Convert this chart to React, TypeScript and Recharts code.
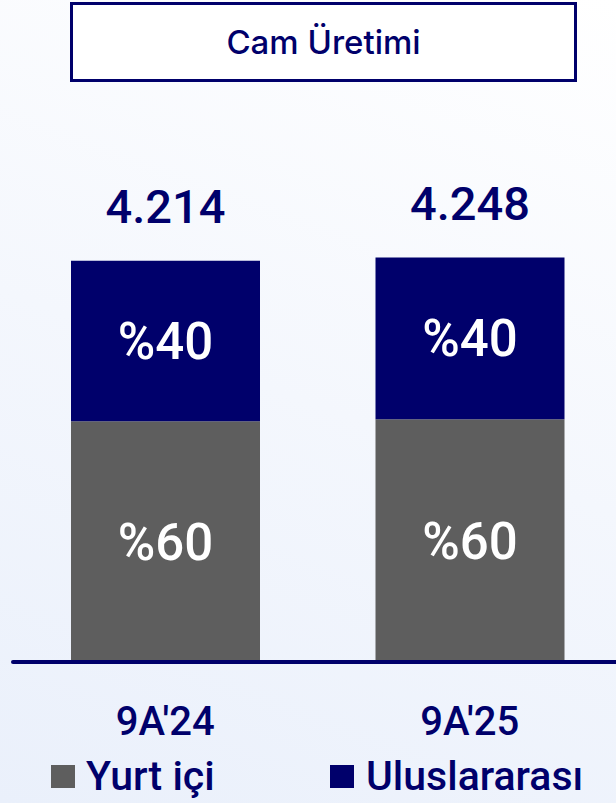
import { BarChart, Bar, XAxis, YAxis, Legend, LabelList } from 'recharts';

// values
const periods = ["9A'24", "9A'25"];
const totals = [4214, 4248];
const domesticShare = [60, 60];
const intlShare = [40, 40];

const NAVY = '#00006b';
const GREY = '#5e5e5e';

const data = periods.map((name, i) => ({
  name,
  yurtici: (totals[i] * domesticShare[i]) / 100,
  uluslararasi: (totals[i] * intlShare[i]) / 100,
  yurticiPay: domesticShare[i],
  uluslararasiPay: intlShare[i],
  total: totals[i],
}));

const fmt = (n: number) => String(n).replace(/\B(?=(\d{3})+(?!\d))/g, '.');

const legendItems = [
  { label: 'Yurt içi', color: GREY, left: 51, textLeft: 86 },
  { label: 'Uluslararası', color: NAVY, left: 330, textLeft: 366 },
];

function ShareLabel(props: any) {
  const { x, y, width, height, value } = props;
  return (
    <text
      x={x + width / 2}
      y={y + height / 2 + 18}
      textAnchor="middle"
      fill="#ffffff"
      fontFamily="Roboto"
      fontWeight={500}
      fontSize={51}
    >
      %{value}
    </text>
  );
}

function TotalLabel(props: any) {
  const { x, y, width, index } = props;
  return (
    <text
      x={x + width / 2}
      y={y - 38}
      textAnchor="middle"
      fill={NAVY}
      fontFamily="Roboto"
      fontWeight={500}
      fontSize={47}
    >
      {fmt(totals[index])}
    </text>
  );
}

function PeriodTick(props: any) {
  const { x, y, payload } = props;
  return (
    <text x={x} y={y + 73} textAnchor="middle" fill={NAVY} fontFamily="Roboto" fontWeight={500} fontSize={40}>
      {payload.value}
    </text>
  );
}

function LegendContent() {
  return (
    <div style={{ position: 'relative', width: 616, height: 50 }}>
      {legendItems.map((it) => (
        <div key={it.label}>
          <div
            style={{ position: 'absolute', left: it.left, top: 13, width: 24, height: 23, background: it.color }}
          />
          <div
            style={{
              position: 'absolute',
              left: it.textLeft,
              top: -1,
              fontFamily: 'Roboto',
              fontWeight: 500,
              fontSize: 41,
              lineHeight: '50px',
              color: NAVY,
              whiteSpace: 'nowrap',
            }}
          >
            {it.label}
          </div>
        </div>
      ))}
    </div>
  );
}

export default function App() {
  return (
    <div
      style={{
        position: 'absolute',
        left: 0,
        top: 0,
        width: 616,
        height: 803,
        overflow: 'hidden',
        background: 'linear-gradient(200deg, #ffffff 0%, #f4f7fd 50%, #eaf0fb 100%)',
      }}
    >
      <div
        style={{
          position: 'absolute',
          left: 70,
          top: 2,
          width: 501,
          height: 74,
          border: `3px solid ${NAVY}`,
          background: '#ffffff',
          display: 'flex',
          alignItems: 'center',
          justifyContent: 'center',
          fontFamily: 'Inter, Roboto',
          fontWeight: 500,
          fontSize: 33,
          color: NAVY,
        }}
      >
        Cam Üretimi
      </div>
      <div style={{ position: 'absolute', left: 0, top: 0 }}>
        <BarChart
          width={622}
          height={803}
          data={data}
          margin={{ top: 186, right: 0, bottom: 81, left: 13 }}
          barSize={189}
        >
          <XAxis
            dataKey="name"
            height={60}
            tickLine={false}
            tickSize={0}
            tickMargin={0}
            axisLine={{ stroke: NAVY, strokeWidth: 4, strokeLinecap: 'round' }}
            tick={<PeriodTick />}
          />
          <YAxis hide domain={[0, 5000]} />
          <Legend
            layout="horizontal"
            verticalAlign="middle"
            align="center"
            content={<LegendContent />}
            wrapperStyle={{ top: 752, left: 0, width: 616 }}
          />
          <Bar dataKey="yurtici" stackId="a" fill={GREY} isAnimationActive={false}>
            <LabelList dataKey="yurticiPay" content={<ShareLabel />} />
          </Bar>
          <Bar dataKey="uluslararasi" stackId="a" fill={NAVY} isAnimationActive={false}>
            <LabelList dataKey="uluslararasiPay" content={<ShareLabel />} />
            <LabelList dataKey="total" content={<TotalLabel />} />
          </Bar>
        </BarChart>
      </div>
    </div>
  );
}
